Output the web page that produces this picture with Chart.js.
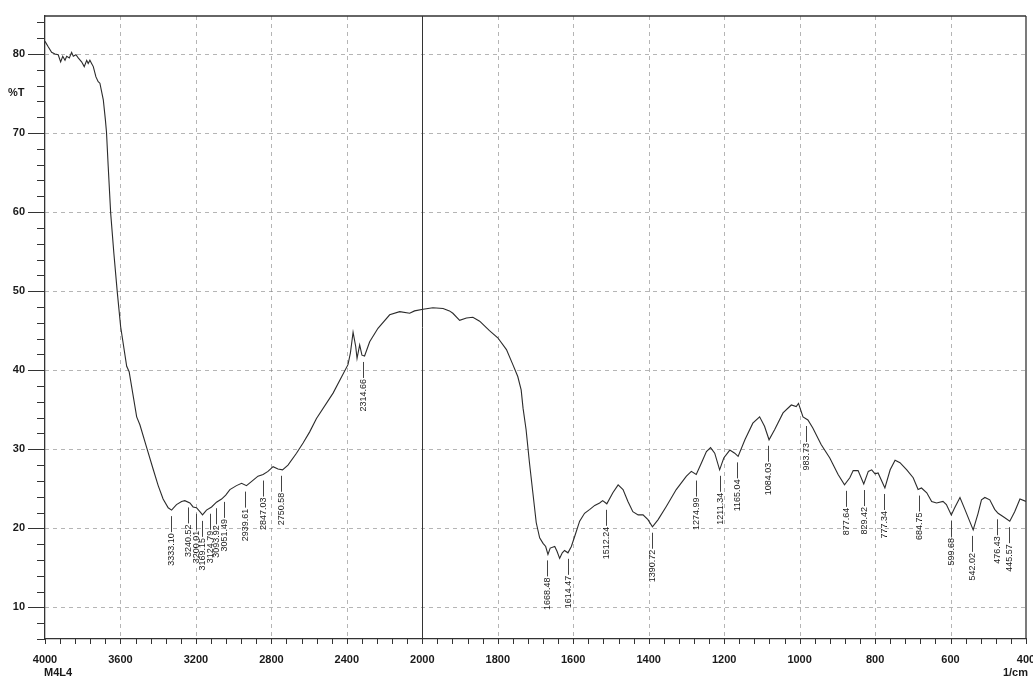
<!DOCTYPE html>
<html><head><meta charset="utf-8">
<script src="https://cdn.jsdelivr.net/npm/chart.js@4.4.1/dist/chart.umd.min.js"></script>
<style>html,body{margin:0;padding:0;background:#fff}#wrap{width:1033px;height:679px}canvas{display:block}</style>
</head><body><div id="wrap"><canvas id="c" width="1033" height="679"></canvas></div>
<script>
// ---- data ----
const wavenumbers = [4000,3983,3965,3947,3930,3917,3906,3894,3885,3871,3859,3850,3836,3824,3806,3792,3779,3771,3762,3753,3744,3730,3718,3709,3691,3680,3674,3665,3652,3635,3617,3599,3567,3554,3514,3497,3461,3427,3400,3374,3347,3329,3303,3276,3259,3232,3215,3197,3179,3165,3144,3117,3091,3064,3042,3020,2985,2958,2932,2906,2871,2844,2818,2791,2765,2741,2712,2667,2632,2597,2561,2473,2394,2381,2367,2353,2346,2332,2320,2306,2279,2235,2173,2120,2067,2041,1998,1972,1945,1928,1919,1901,1883,1866,1848,1822,1800,1777,1760,1747,1738,1733,1725,1716,1707,1698,1689,1680,1673,1667,1661,1649,1643,1636,1629,1623,1614,1605,1596,1583,1570,1556,1543,1530,1522,1511,1495,1481,1468,1455,1442,1428,1415,1402,1390,1375,1353,1327,1300,1287,1274,1260,1247,1236,1225,1212,1201,1185,1172,1163,1145,1124,1106,1093,1081,1066,1044,1022,1009,1003,991,978,965,943,920,898,881,867,858,845,830,818,809,800,792,774,760,747,734,716,699,686,677,663,650,637,620,611,598,589,575,562,540,527,518,509,496,483,474,461,443,430,416,400];
const transmittance = [81.6,80.9,80.2,80.0,79.9,79.0,79.7,79.2,79.7,79.5,80.2,79.7,79.9,79.5,79.0,78.4,79.2,78.8,79.2,78.8,78.4,77.1,76.5,76.3,74.2,71.7,70.1,65.8,59.9,54.8,49.9,45.5,40.5,39.8,34.1,33.1,30.2,27.5,25.4,23.7,22.6,22.3,23.0,23.4,23.5,23.2,22.7,22.6,22.1,21.7,22.3,22.7,23.3,23.7,24.2,24.9,25.4,25.7,25.4,25.9,26.6,26.8,27.2,27.8,27.5,27.4,28.0,29.5,30.8,32.2,33.9,37.1,40.7,42.2,44.8,43.0,41.5,43.2,41.9,41.8,43.6,45.3,47.0,47.4,47.2,47.5,47.7,47.9,47.8,47.5,47.2,46.3,46.6,46.7,46.2,45.0,44.1,42.6,40.7,39.2,37.5,35.2,32.5,28.3,24.5,20.7,18.8,18.1,17.7,16.7,17.5,17.7,17.1,16.2,16.9,17.2,16.9,17.7,19.0,20.9,21.9,22.4,22.9,23.2,23.5,23.1,24.5,25.5,24.9,23.4,22.1,21.7,21.7,21.1,20.2,21.1,22.8,24.9,26.6,27.2,26.8,28.3,29.7,30.2,29.5,27.4,28.9,29.9,29.5,29.1,31.2,33.3,34.1,32.9,31.2,32.5,34.6,35.6,35.4,35.8,34.1,33.7,32.7,30.6,28.9,26.8,25.5,26.4,27.3,27.3,25.6,27.2,27.4,26.9,27.0,25.1,27.4,28.6,28.3,27.4,26.4,24.9,25.1,24.5,23.4,23.2,23.4,23.0,21.7,22.6,23.9,22.4,19.8,21.9,23.6,23.9,23.6,22.4,21.9,21.5,20.9,22.1,23.7,23.4];
const xTickLabels = [4000,3600,3200,2800,2400,2000,1800,1600,1400,1200,1000,800,600,400];
const yTickLabels = [10,20,30,40,50,60,70,80];
const peakLabels = ['3333.10','3240.52','3200.01','3169.15','3124.79','3093.92','3051.49','2939.61','2847.03','2750.58','2314.66','1668.48','1614.47','1512.24','1390.72','1274.99','1211.34','1165.04','1084.03','983.73','877.64','829.42','777.34','684.75','599.68','542.02','476.43','445.57'];
const peakWavenumbers = peakLabels.map(Number);
const peakTransmittance = [22.3,23.4,22.6,21.7,22.6,23.3,24.1,25.4,26.8,27.4,41.8,16.7,16.9,23.1,20.2,26.8,27.4,29.1,31.2,33.7,25.5,25.6,25.1,24.9,21.7,19.8,21.9,20.9];

// x axis is split: 4000-2000 at half scale, 2000-400 at full scale
function toPos(w){ return w >= 2000 ? (4000 - w) / 2 : 1000 + (2000 - w); }
function fromPos(p){ return p <= 1000 ? 4000 - 2 * p : 2000 - (p - 1000); }

const FONT = '"Liberation Sans", Arial, sans-serif';
const INK = '#1a1a1a';

function seg(ctx, x1, y1, x2, y2){ ctx.beginPath(); ctx.moveTo(x1, y1); ctx.lineTo(x2, y2); ctx.stroke(); }

const sketch = {
  id: 'sketch',
  beforeDatasetsDraw(chart){
    const {ctx, chartArea: a, scales: {x, y}} = chart;
    ctx.save();
    ctx.lineWidth = 1;
    ctx.strokeStyle = 'rgba(120,120,120,0.55)';
    ctx.setLineDash([4, 4]);
    yTickLabels.forEach(v => { const py = Math.round(y.getPixelForValue(v)) + 0.5; seg(ctx, a.left, py, a.right, py); });
    xTickLabels.forEach(w => {
      if (w === 4000 || w === 400 || w === 2000) return;
      const px = Math.round(x.getPixelForValue(toPos(w))) + 0.5; seg(ctx, px, a.top, px, a.bottom);
    });
    ctx.setLineDash([]);
    ctx.strokeStyle = '#333';
    const p2 = Math.round(x.getPixelForValue(toPos(2000))) + 0.5;
    seg(ctx, p2, a.top, p2, a.bottom);
    ctx.restore();
  },
  afterDraw(chart){
    const {ctx, chartArea: a, scales: {x, y}} = chart;
    ctx.save();
    ctx.strokeStyle = '#333';
    ctx.lineWidth = 1.3;
    // frame top and right
    seg(ctx, a.left, a.top, a.right, a.top);
    seg(ctx, a.right, a.top, a.right, a.bottom);
    ctx.lineWidth = 1;
    // x minor ticks (every 40 position units)
    for (let p = 0; p <= 2600; p += 40) {
      const px = Math.round(x.getPixelForValue(p)) + 0.5;
      seg(ctx, px, a.bottom, px, a.bottom + 5);
    }
    // y ticks
    for (let v = 6; v <= 84; v += 2) {
      const py = Math.round(y.getPixelForValue(v)) + 0.5;
      const len = v % 10 === 0 ? 17 : 8;
      seg(ctx, a.left - len, py, a.left, py);
    }
    // peak annotations
    ctx.font = '9px ' + FONT;
    ctx.fillStyle = INK;
    ctx.strokeStyle = '#444';
    peakWavenumbers.forEach((w, i) => {
      const px = Math.round(x.getPixelForValue(toPos(w))) + 0.5;
      const py = y.getPixelForValue(peakTransmittance[i]);
      const l0 = py + 6, l1 = l0 + 16;
      seg(ctx, px, l0, px, l1);
      ctx.save();
      ctx.translate(px, l1 + 1);
      ctx.rotate(-Math.PI / 2);
      ctx.textAlign = 'right';
      ctx.textBaseline = 'middle';
      ctx.fillText(peakLabels[i], 0, 0);
      ctx.restore();
    });
    // extra labels
    ctx.font = 'bold 11px ' + FONT;
    ctx.textBaseline = 'middle';
    ctx.textAlign = 'left';
    ctx.fillText('%T', 8, 93);
    ctx.fillText('M4L4', 44, 673);
    ctx.textAlign = 'right';
    ctx.fillText('1/cm', 1028, 673);
    ctx.restore();
  }
};

new Chart(document.getElementById('c'), {
  type: 'line',
  data: {
    datasets: [{
      data: wavenumbers.map((w, i) => ({x: toPos(w), y: transmittance[i]})),
      borderColor: '#2b2b2b',
      borderWidth: 1.1,
      pointRadius: 0,
      tension: 0,
      fill: false
    }]
  },
  options: {
    responsive: false,
    animation: false,
    devicePixelRatio: 1,
    layout: {padding: {left: 0, right: 7, top: 16, bottom: 0}},
    plugins: {legend: {display: false}, tooltip: {enabled: false}},
    scales: {
      x: {
        type: 'linear', min: 0, max: 2600,
        afterBuildTicks: s => { s.ticks = xTickLabels.map(w => ({value: toPos(w)})); },
        afterFit: s => { s.height = 40; s.paddingLeft = 0; s.paddingRight = 0; },
        ticks: {
          autoSkip: false, maxRotation: 0, minRotation: 0, padding: 14,
          color: INK, font: {size: 11, family: FONT, weight: 'bold'},
          callback: v => String(fromPos(v))
        },
        grid: {display: false, drawTicks: false},
        border: {display: true, color: '#333', width: 1.3}
      },
      y: {
        type: 'linear', min: 6, max: 84.8,
        afterBuildTicks: s => { s.ticks = yTickLabels.map(v => ({value: v})); },
        afterFit: s => { s.width = 45; s.paddingTop = 0; s.paddingBottom = 0; },
        ticks: {padding: 20, color: INK, font: {size: 11, family: FONT, weight: 'bold'}},
        grid: {display: false, drawTicks: false},
        border: {display: true, color: '#333', width: 1.3}
      }
    }
  },
  plugins: [sketch]
});
</script></body></html>
